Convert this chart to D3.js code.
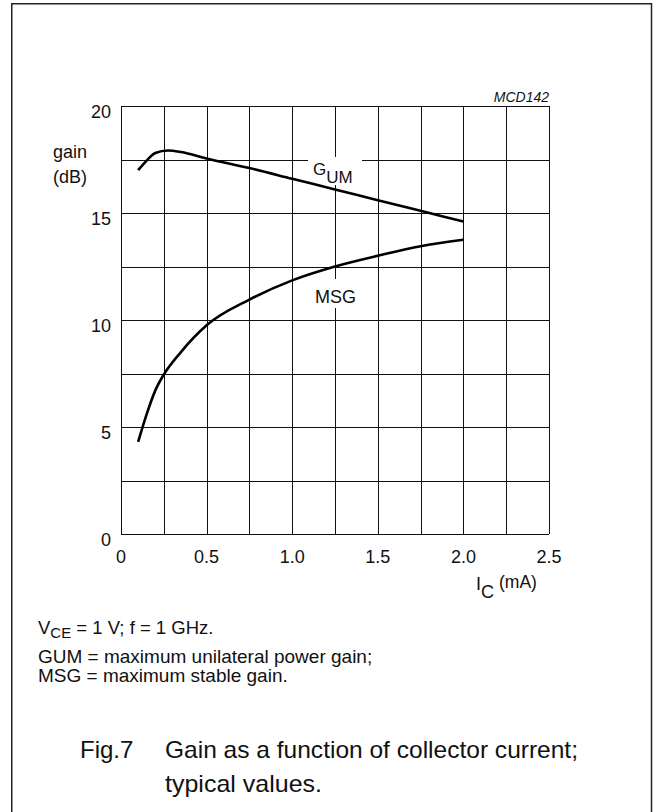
<!DOCTYPE html>
<html>
<head>
<meta charset="utf-8">
<script src="https://cdn.jsdelivr.net/npm/d3@7"></script>
<style>
  html, body { margin: 0; padding: 0; background: #fff; }
  svg text { font-family: "Liberation Sans", Arial, sans-serif; fill: #111; }
</style>
</head>
<body>
<svg id="chart" width="653" height="812"></svg>
<script>
// collector current (mA) vs gain (dB)
const gumCurrent = [0.1, 0.15, 0.2, 0.275, 0.35, 0.5, 0.75, 1.0, 1.25, 1.5, 1.75, 2.0];
const gumGain    = [17.0, 17.45, 17.8, 17.92, 17.85, 17.55, 17.1, 16.6, 16.1, 15.6, 15.1, 14.6];

const msgCurrent = [0.1, 0.15, 0.2, 0.25, 0.35, 0.5, 0.75, 1.0, 1.25, 1.5, 1.75, 2.0];
const msgGain    = [4.3, 5.6, 6.7, 7.45, 8.5, 9.75, 10.95, 11.85, 12.5, 13.0, 13.45, 13.75];

const xTicks = [0, 0.5, 1.0, 1.5, 2.0, 2.5];
const yTicks = [0, 5, 10, 15, 20];
const xGrid = [0, 0.25, 0.5, 0.75, 1.0, 1.25, 1.5, 1.75, 2.0, 2.25, 2.5];
const yGrid = [0, 2.5, 5, 7.5, 10, 12.5, 15, 17.5, 20];

const svg = d3.select('#chart');

const x = d3.scaleLinear().domain([0, 2.5]).range([121, 549]);
const y = d3.scaleLinear().domain([0, 20]).range([534, 106]);

// outer frame
svg.append('path')
  .attr('d', 'M11.75,830 V3.75 H651.5 V830')
  .attr('fill', 'none')
  .attr('stroke', '#222')
  .attr('stroke-width', 1.5);

// grid
const grid = svg.append('g').attr('stroke', '#111').attr('stroke-width', 1);
grid.selectAll('.gx')
  .data(xGrid)
  .enter()
  .append('line')
  .attr('x1', d => Math.round(x(d)) + 0.5)
  .attr('x2', d => Math.round(x(d)) + 0.5)
  .attr('y1', y(0))
  .attr('y2', y(20));
grid.selectAll('.gy')
  .data(yGrid)
  .enter()
  .append('line')
  .attr('y1', d => Math.round(y(d)) + 0.5)
  .attr('y2', d => Math.round(y(d)) + 0.5)
  .attr('x1', x(0))
  .attr('x2', x(2.5));

// tick labels
svg.selectAll('.ylab')
  .data(yTicks)
  .enter()
  .append('text')
  .attr('x', 111)
  .attr('y', d => y(d) + 12)
  .attr('text-anchor', 'end')
  .style('font-size', '18px')
  .text(d => d);

svg.selectAll('.xlab')
  .data(xTicks)
  .enter()
  .append('text')
  .attr('x', d => x(d))
  .attr('y', 563)
  .attr('text-anchor', 'middle')
  .style('font-size', '18px')
  .text(d => d === 0 ? '0' : d.toFixed(1));

// axis titles
svg.append('text').attr('x', 53).attr('y', 158).style('font-size', '18px').text('gain');
svg.append('text').attr('x', 53).attr('y', 183).style('font-size', '18px').text('(dB)');

const ic = svg.append('text').attr('x', 476).attr('y', 590).style('font-size', '18px');
ic.append('tspan').text('I');
ic.append('tspan').attr('dy', 8).text('C');
ic.append('tspan').attr('dy', -10).attr('dx', 5).style('font-size', '17.5px').text('(mA)');

svg.append('text')
  .attr('x', 549).attr('y', 102)
  .attr('text-anchor', 'end')
  .style('font-size', '14px')
  .style('font-style', 'italic')
  .text('MCD142');

// label knock-outs
svg.append('rect').attr('x', 308).attr('y', 157).attr('width', 54).attr('height', 28).attr('fill', '#fff');
svg.append('rect').attr('x', 312).attr('y', 279).attr('width', 48).attr('height', 29).attr('fill', '#fff');

// curves
const line = d3.line()
  .x(d => x(d[0]))
  .y(d => y(d[1]))
  .curve(d3.curveMonotoneX);

svg.append('path')
  .datum(d3.zip(gumCurrent, gumGain))
  .attr('d', line)
  .attr('fill', 'none')
  .attr('stroke', '#000')
  .attr('stroke-width', 2.6);

svg.append('path')
  .datum(d3.zip(msgCurrent, msgGain))
  .attr('d', line)
  .attr('fill', 'none')
  .attr('stroke', '#000')
  .attr('stroke-width', 2.6);

// curve labels
const gum = svg.append('text').attr('x', 313).attr('y', 175).style('font-size', '17px');
gum.append('tspan').text('G');
gum.append('tspan').attr('dy', 8).text('UM');

svg.append('text').attr('x', 315).attr('y', 303).style('font-size', '18px').text('MSG');

// notes
const note1 = svg.append('text').attr('x', 38).attr('y', 634).style('font-size', '18.5px');
note1.append('tspan').text('V');
note1.append('tspan').attr('dy', 4).style('font-size', '15px').text('CE');
note1.append('tspan').attr('dy', -4).text(' = 1 V; f = 1 GHz.');

svg.append('text').attr('x', 38).attr('y', 663).style('font-size', '19px')
  .text('GUM = maximum unilateral power gain;');
svg.append('text').attr('x', 38).attr('y', 682).style('font-size', '19px')
  .text('MSG = maximum stable gain.');

// caption
svg.append('text').attr('x', 80).attr('y', 758).style('font-size', '24px').text('Fig.7');
svg.append('text').attr('x', 165).attr('y', 758).style('font-size', '24px')
  .attr('textLength', 413).attr('lengthAdjust', 'spacingAndGlyphs')
  .text('Gain as a function of collector current;');
svg.append('text').attr('x', 165).attr('y', 792).style('font-size', '24px')
  .attr('textLength', 157).attr('lengthAdjust', 'spacingAndGlyphs')
  .text('typical values.');
</script>
</body>
</html>
